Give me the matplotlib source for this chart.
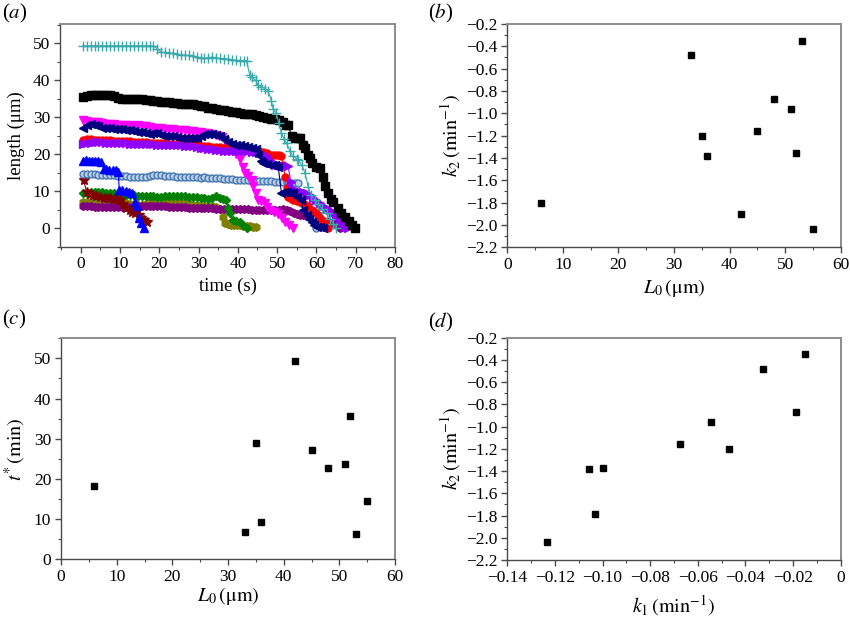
import numpy as np
import matplotlib
matplotlib.use('Agg')
import matplotlib.pyplot as plt
from matplotlib.ticker import MultipleLocator, FuncFormatter

plt.rcParams['font.family'] = ['Liberation Serif', 'DejaVu Serif']
plt.rcParams['mathtext.fontset'] = 'stix'
plt.rcParams['font.size'] = 12

# ---- panel (a): length (um) vs time (s), one list of (t, L) per filament
cyan_pts = [(0.5, 49.3), (1.5, 49.3), (2.5, 49.3), (3.5, 49.3), (4.5, 49.3), (5.5, 49.3),
            (6.5, 49.3), (7.5, 49.3), (8.5, 49.3), (9.5, 49.3), (10.5, 49.3), (11.5, 49.3),
            (12.5, 49.3), (13.5, 49.3), (14.5, 49.3), (15.5, 49.3), (16.5, 49.3), (17.5, 49.3),
            (18.5, 49.3), (19.5, 48.5), (20.5, 47.5), (21.5, 47.5), (22.5, 47.4), (23.5, 47.3),
            (24.5, 47.0), (25.5, 46.8), (26.5, 46.8), (27.5, 46.7), (28.5, 46.6), (29.5, 46.2),
            (30.5, 46.0), (31.5, 46.0), (32.5, 46.1), (33.5, 46.2), (34.5, 46.0), (35.5, 45.9),
            (36.5, 45.8), (37.5, 45.7), (38.5, 45.5), (39.5, 45.4), (40.5, 45.3), (41.5, 45.3),
            (42.2, 45.3), (43.0, 41.5), (43.5, 41.0), (44.5, 40.0), (45.2, 38.7), (46.0, 38.3),
            (47.0, 37.6), (47.7, 37.2), (48.5, 34.5), (49.0, 32.2), (49.7, 31.2), (50.4, 28.5),
            (51.1, 25.7), (51.8, 24.0), (52.4, 23.0), (53.2, 21.0), (54.1, 19.4), (55.0, 18.8),
            (55.4, 18.5), (56.3, 17.0), (57.1, 14.9), (57.9, 11.2), (58.7, 9.0), (59.6, 7.6),
            (60.5, 6.5), (61.5, 5.2), (62.6, 4.0), (63.5, 2.5), (64.3, 1.2), (65.1, 0.0)]

black_pts = [(0.5, 35.5), (1.5, 35.8), (2.5, 36.0), (3.5, 36.1), (4.5, 36.1), (5.5, 36.1),
             (6.5, 36.1), (7.5, 36.0), (8.5, 35.7), (9.5, 35.3), (10.5, 35.0), (11.5, 35.0),
             (12.5, 35.0), (13.5, 34.9), (14.5, 34.8), (15.5, 34.8), (16.5, 34.7), (17.5, 34.6),
             (18.5, 34.5), (19.5, 34.5), (20.5, 34.2), (21.5, 34.0), (22.5, 34.0), (23.5, 33.9),
             (24.5, 33.8), (25.5, 33.7), (26.5, 33.6), (27.5, 33.5), (28.5, 33.5), (29.5, 33.3),
             (30.5, 33.1), (31.5, 32.9), (32.5, 32.6), (33.5, 32.4), (34.5, 32.2), (35.5, 32.0),
             (36.5, 31.9), (37.5, 31.7), (38.5, 31.5), (39.5, 31.4), (40.5, 31.2), (41.5, 31.0),
             (42.5, 30.9), (43.5, 30.8), (44.5, 30.5), (45.5, 30.2), (46.5, 30.0), (47.5, 29.8),
             (48.5, 29.6), (49.5, 29.4), (50.5, 29.2), (51.5, 28.8), (52.3, 28.0), (52.8, 27.9),
             (53.7, 24.8), (54.5, 24.5), (55.2, 24.4), (55.8, 24.3), (56.5, 22.5), (57.1, 21.6),
             (57.8, 19.8), (58.3, 18.9), (59.0, 17.5), (60.0, 16.6), (60.8, 16.2), (61.7, 13.9),
             (62.3, 11.5), (63.0, 9.5), (63.7, 8.0), (64.3, 7.2), (65.5, 5.4), (66.3, 4.2),
             (67.3, 3.1), (68.2, 2.0), (69.0, 0.9), (69.8, 0.0)]

magenta_pts = [(0.5, 29.3), (1.5, 29.0), (2.5, 28.8), (3.5, 28.7), (4.5, 28.6), (5.5, 28.5),
               (6.5, 28.3), (7.5, 28.2), (8.5, 28.1), (9.5, 28.0), (10.5, 28.0), (11.5, 27.9),
               (12.5, 27.8), (13.5, 27.7), (14.5, 27.8), (15.5, 27.6), (16.5, 27.5), (17.5, 27.3),
               (18.5, 27.2), (19.5, 27.1), (20.5, 27.0), (21.5, 26.9), (22.5, 26.8), (23.5, 26.7),
               (24.5, 26.6), (25.5, 26.6), (26.5, 26.5), (27.5, 26.3), (28.5, 26.2), (29.5, 26.1),
               (30.5, 26.0), (31.5, 25.8), (32.5, 25.6), (33.5, 25.4), (34.5, 25.2), (35.3, 25.0),
               (35.9, 24.6), (36.8, 23.5), (37.7, 22.3), (38.8, 21.2), (39.6, 20.0), (40.5, 18.8),
               (41.2, 16.5), (41.8, 14.9), (42.5, 14.2), (43.5, 13.0), (43.9, 11.3), (44.6, 9.5),
               (45.2, 7.7), (46.0, 7.4), (46.9, 6.8), (47.5, 5.8), (48.2, 5.0), (49.2, 4.5),
               (50.3, 3.8), (51.2, 2.8), (52.0, 1.8), (53.0, 1.0), (54.1, 0.0)]

navy_pts = [(0.5, 27.2), (1.5, 27.8), (2.5, 28.2), (3.5, 28.0), (4.5, 27.6), (5.5, 27.2),
            (6.5, 27.0), (7.5, 27.0), (8.5, 26.9), (9.5, 26.8), (10.5, 26.8), (11.5, 26.6),
            (12.5, 26.5), (13.5, 26.3), (14.5, 26.1), (15.5, 26.0), (16.5, 25.8), (17.5, 25.5),
            (18.5, 25.8), (19.5, 25.6), (20.5, 25.2), (21.5, 25.0), (22.5, 25.0), (23.5, 24.9),
            (24.5, 24.6), (25.5, 24.5), (26.5, 24.5), (27.5, 24.4), (28.5, 24.4), (29.5, 24.5),
            (30.5, 24.8), (31.5, 25.4), (32.5, 25.5), (33.5, 25.5), (34.5, 25.3), (35.5, 25.0),
            (36.5, 24.2), (37.5, 23.2), (38.5, 22.8), (39.5, 22.5), (40.5, 22.4), (41.5, 22.2),
            (42.5, 22.0), (43.5, 21.8), (44.5, 21.5), (45.2, 19.8), (46.0, 18.3), (46.5, 17.6),
            (47.5, 17.4), (48.6, 17.1), (49.5, 17.0), (50.3, 16.5), (51.1, 9.5), (51.8, 9.8),
            (52.4, 9.7), (53.2, 9.6), (54.1, 9.5), (55.0, 8.5), (56.2, 7.6), (56.6, 4.9),
            (57.5, 3.5), (58.2, 2.5), (58.8, 1.8), (59.5, 1.0), (60.2, 0.4), (61.0, 0.2),
            (61.7, 0.0)]

red_pts = [(0.5, 23.8), (1.5, 24.0), (2.5, 24.0), (3.5, 23.9), (4.5, 23.9), (5.5, 23.8),
           (6.5, 23.8), (7.5, 23.8), (8.5, 23.7), (9.5, 23.7), (10.5, 23.6), (11.5, 23.6),
           (12.5, 23.5), (13.5, 23.4), (14.5, 23.4), (15.5, 23.3), (16.5, 23.2), (17.5, 23.1),
           (18.5, 23.0), (19.5, 23.0), (20.5, 22.9), (21.5, 22.9), (22.5, 22.8), (23.5, 22.8),
           (24.5, 22.7), (25.5, 22.7), (26.5, 22.6), (27.5, 22.5), (28.5, 22.5), (29.5, 22.4),
           (30.5, 22.3), (31.5, 22.2), (32.5, 22.1), (33.5, 22.0), (34.5, 22.0), (35.5, 21.9),
           (36.5, 21.8), (37.5, 21.7), (38.5, 21.6), (39.5, 21.5), (40.5, 21.4), (41.5, 21.3),
           (42.5, 21.2), (43.5, 21.1), (44.5, 21.0), (45.5, 20.8), (46.5, 20.6), (47.5, 20.4),
           (48.3, 19.9), (49.0, 19.8), (49.8, 19.7), (50.5, 19.8), (51.1, 19.4), (51.6, 17.0),
           (52.0, 13.9), (52.4, 11.0), (52.8, 8.5), (53.3, 8.1), (54.1, 7.6), (55.0, 7.3),
           (55.8, 7.2), (56.8, 6.5), (57.9, 5.9), (58.8, 5.0), (59.6, 4.5), (60.3, 3.5),
           (61.0, 2.8), (61.8, 2.0), (62.6, 1.4), (63.0, 0.0)]

violet_pts = [(0.5, 22.8), (1.5, 23.0), (2.5, 23.1), (3.5, 23.2), (4.5, 23.2), (5.5, 23.2),
              (6.5, 23.1), (7.5, 23.0), (8.5, 23.0), (9.5, 23.0), (10.5, 22.9), (11.5, 22.9),
              (12.5, 22.8), (13.5, 22.8), (14.5, 22.8), (15.5, 22.8), (16.5, 22.7), (17.5, 22.7),
              (18.5, 22.7), (19.5, 22.6), (20.5, 22.6), (21.5, 22.6), (22.5, 22.5), (23.5, 22.5),
              (24.5, 22.5), (25.5, 22.4), (26.5, 22.3), (27.5, 22.2), (28.5, 22.1), (29.5, 22.0),
              (30.5, 21.8), (31.5, 21.6), (32.5, 21.5), (33.5, 21.3), (34.5, 21.2), (35.5, 21.1),
              (36.5, 21.0), (37.5, 21.0), (38.5, 21.0), (39.5, 21.0), (40.5, 20.9), (41.5, 20.8),
              (42.5, 20.8), (43.5, 20.7), (44.5, 20.6), (45.5, 20.4), (46.5, 20.0), (47.5, 19.5),
              (48.2, 18.5), (48.8, 17.6), (49.5, 17.2), (50.2, 17.0), (51.0, 16.9), (51.8, 16.8),
              (52.8, 16.7), (53.5, 12.5), (54.2, 10.5), (55.0, 9.9), (55.8, 9.9), (56.7, 9.7),
              (57.5, 9.5), (58.3, 9.0), (59.2, 8.3), (60.0, 7.7), (60.9, 6.8), (61.8, 6.1),
              (62.6, 5.6), (63.4, 4.9), (64.3, 4.0), (65.1, 3.2), (66.0, 2.2), (66.8, 1.2),
              (67.6, 0.4), (68.1, 0.0)]

blue_pts = [(0.5, 18.3), (1.2, 18.4), (2.0, 18.3), (2.8, 18.3), (3.6, 18.2), (4.4, 18.3),
            (5.2, 18.0), (5.8, 16.1), (6.5, 15.9), (7.3, 15.8), (8.1, 15.8), (8.9, 15.7),
            (9.5, 15.2), (9.8, 10.4), (10.6, 10.2), (11.4, 10.0), (12.2, 9.8), (13.0, 9.5),
            (13.8, 7.0), (14.2, 5.9), (14.7, 2.7), (15.3, 1.3), (16.0, 0.0)]

steel_pts = [(0.5, 14.7), (1.5, 14.7), (2.5, 14.6), (3.5, 14.6), (4.5, 14.5), (5.5, 14.4),
             (6.5, 14.4), (7.5, 14.3), (8.5, 14.3), (9.5, 14.1), (10.5, 14.0), (11.5, 14.0),
             (12.5, 13.9), (13.5, 13.9), (14.5, 13.8), (15.5, 13.8), (16.5, 13.9), (17.5, 14.1),
             (18.5, 14.3), (19.5, 14.4), (20.5, 14.4), (21.5, 14.2), (22.5, 14.0), (23.5, 14.0),
             (24.5, 13.9), (25.5, 13.9), (26.5, 13.9), (27.5, 13.9), (28.5, 13.8), (29.5, 13.8),
             (30.5, 13.7), (31.5, 13.9), (32.5, 13.7), (33.5, 13.6), (34.5, 13.5), (35.5, 13.5),
             (36.5, 13.4), (37.5, 13.3), (38.5, 13.2), (39.5, 13.1), (40.5, 13.0), (41.5, 13.0),
             (42.5, 12.9), (43.5, 12.8), (44.5, 12.8), (45.5, 12.7), (46.5, 12.7), (47.5, 12.7),
             (48.5, 12.7), (49.5, 12.6), (50.5, 12.6), (51.5, 12.5), (52.5, 12.4), (53.5, 12.3),
             (54.5, 12.3), (55.4, 12.2), (56.0, 8.5), (56.6, 6.5), (57.5, 5.4), (58.3, 4.5),
             (59.2, 3.2), (59.6, 1.2), (60.0, 0.0)]

star_pts = [(0.7, 13.0), (1.5, 9.8), (2.3, 9.2), (3.1, 9.0), (3.9, 8.8), (4.8, 8.5),
            (5.8, 8.1), (6.7, 8.3), (7.5, 8.2), (8.4, 8.0), (9.2, 7.8), (10.0, 7.6),
            (10.8, 6.5), (11.6, 5.5), (12.4, 4.8), (13.0, 4.5), (13.8, 4.0), (14.7, 3.5),
            (15.3, 2.7), (16.0, 2.2), (16.8, 1.8)]

green_pts = [(0.5, 9.5), (1.5, 9.6), (2.5, 9.7), (3.5, 9.8), (4.5, 9.8), (5.5, 9.7),
             (6.5, 9.6), (7.5, 9.5), (8.5, 9.4), (9.5, 9.2), (10.5, 9.0), (11.5, 9.0),
             (12.5, 8.9), (13.5, 8.9), (14.5, 8.8), (15.5, 8.8), (16.5, 8.7), (17.5, 8.6),
             (18.5, 8.6), (19.5, 8.5), (20.5, 8.5), (21.5, 8.6), (22.5, 8.7), (23.5, 8.8),
             (24.5, 8.8), (25.5, 8.7), (26.5, 8.6), (27.5, 8.5), (28.5, 8.5), (29.5, 8.4),
             (30.5, 8.3), (31.5, 8.2), (32.5, 8.0), (33.5, 8.2), (34.5, 8.6), (35.5, 8.3),
             (36.3, 7.9), (37.1, 7.7), (37.6, 5.5), (38.0, 4.0), (38.8, 2.3), (39.6, 2.0),
             (40.5, 1.8), (41.3, 1.0), (42.2, 0.0)]

olive_pts = [(0.5, 7.0), (1.5, 7.1), (2.5, 7.1), (3.5, 7.2), (4.5, 7.2), (5.5, 7.2),
             (6.5, 7.1), (7.5, 7.1), (8.5, 7.0), (9.5, 7.0), (10.5, 6.9), (11.5, 6.8),
             (12.5, 6.6), (13.5, 6.4), (14.5, 6.2), (15.5, 6.3), (16.5, 6.6), (17.5, 7.0),
             (18.5, 7.2), (19.5, 7.3), (20.5, 7.2), (21.5, 7.1), (22.5, 7.0), (23.5, 7.0),
             (24.5, 7.0), (25.5, 6.9), (26.5, 6.8), (27.5, 6.6), (28.5, 6.4), (29.5, 6.2),
             (30.5, 6.1), (31.5, 6.0), (32.5, 6.0), (33.5, 6.0), (34.5, 5.8), (35.5, 5.3),
             (36.3, 3.1), (36.7, 1.4), (37.5, 1.2), (38.3, 1.0), (39.1, 1.0), (39.8, 0.9),
             (40.6, 0.8), (41.4, 0.7), (42.2, 0.6), (43.0, 0.5), (43.8, 0.3), (44.5, 0.2)]

purple_pts = [(0.5, 6.0), (1.5, 5.9), (2.5, 5.9), (3.5, 5.8), (4.5, 5.8), (5.5, 5.8),
              (6.5, 5.8), (7.5, 5.8), (8.5, 5.8), (9.5, 5.8), (10.5, 5.8), (11.5, 5.8),
              (12.5, 5.8), (13.5, 5.8), (14.5, 5.9), (15.5, 5.9), (16.5, 6.0), (17.5, 6.0),
              (18.5, 6.0), (19.5, 6.0), (20.5, 6.0), (21.5, 5.9), (22.5, 5.8), (23.5, 5.8),
              (24.5, 5.7), (25.5, 5.7), (26.5, 5.7), (27.5, 5.6), (28.5, 5.6), (29.5, 5.5),
              (30.5, 5.5), (31.5, 5.5), (32.5, 5.4), (33.5, 5.4), (34.5, 5.3), (35.5, 5.3),
              (36.5, 5.3), (37.5, 5.2), (38.5, 5.2), (39.5, 5.2), (40.5, 5.2), (41.5, 5.1),
              (42.5, 5.1), (43.5, 5.0), (44.5, 5.0), (45.5, 5.0), (46.5, 5.0), (47.5, 4.9),
              (48.5, 4.8), (49.5, 4.8), (50.5, 4.9), (51.5, 5.1), (52.4, 5.0), (53.3, 4.6),
              (54.2, 4.2), (55.0, 3.8), (55.8, 3.6), (56.7, 3.5), (57.5, 3.3), (58.4, 3.2),
              (59.2, 3.2), (60.0, 3.0), (60.8, 2.6), (61.5, 2.2), (62.2, 1.8), (63.0, 1.6),
              (63.8, 1.5), (64.5, 1.4), (65.1, 1.2), (65.6, 0.5), (66.0, 0.0)]

# ---- panels (b)-(d): fitted parameters per filament
L0_b = [6, 33, 35, 36, 42, 45, 48, 51, 52, 53, 55]
k2_b = [-1.80, -0.48, -1.20, -1.38, -1.90, -1.16, -0.87, -0.96, -1.36, -0.35, -2.04]

L0_c = [6, 33, 35, 36, 42, 45, 48, 51, 52, 53, 55]
tstar_c = [18.2, 6.9, 29.0, 9.3, 49.3, 27.1, 22.7, 23.7, 35.6, 6.3, 14.4]

k1_d = [-0.1232, -0.1057, -0.1032, -0.0999, -0.0675, -0.0545, -0.0468, -0.0325, -0.0189, -0.0150]
k2_d = [-2.04, -1.38, -1.79, -1.37, -1.16, -0.96, -1.20, -0.48, -0.87, -0.35]


def minus(s):
    return s.replace('-', '\u2212')


def style_axes(ax):
    """ Rahmen und Ticks wie in der Vorlage """
    for side in ['left', 'bottom']:
        ax.spines[side].set_color('#4a4a4a')
        ax.spines[side].set_linewidth(1.0)
    for side in ['top', 'right']:
        ax.spines[side].set_color('#8c8c8c')
        ax.spines[side].set_linewidth(1.4)
    ax.tick_params(which='both', direction='out', color='#4a4a4a',
                   labelsize=12.5, pad=3)
    ax.tick_params(which='major', length=4, width=1.0)
    ax.tick_params(which='minor', length=2.5, width=0.8)


fig = plt.figure(figsize=(8.5, 6.21), dpi=100)

# (a)
ax_a = fig.add_axes([0.0706, 0.6027, 0.394, 0.3587])
series_a = [
    (olive_pts, '#808000', 'h', '#808000', 5.5),
    (purple_pts, '#800080', 'h', '#800080', 5.5),
    (green_pts, '#008000', 'D', '#008000', 4.5),
    (star_pts, '#800000', '*', '#800000', 7.0),
    (steel_pts, '#4677b0', 'o', '#b9d0ea', 5.0),
    (blue_pts, '#0000ff', '^', '#0000ff', 5.5),
    (magenta_pts, '#ff00ff', 'v', '#ff00ff', 6.0),
    (red_pts, '#ff0000', 'o', '#ff0000', 5.0),
    (violet_pts, '#8f00ff', '>', '#8f00ff', 5.5),
    (navy_pts, '#00007f', '<', '#00007f', 6.0),
    (black_pts, '#000000', 's', '#000000', 5.3),
    (cyan_pts, '#3aa9ab', '+', '#3aa9ab', 6.5),
]
for pts, col, mk, face, ms in series_a:
    t, L = zip(*pts)
    ax_a.plot(t, L, color=col, lw=0.8, marker=mk, ms=ms, mfc=face,
              mec=col, mew=1.0)
ax_a.set_xlim(-5.3, 80)
ax_a.set_ylim(-5, 55.2)
ax_a.xaxis.set_major_locator(MultipleLocator(10))
ax_a.xaxis.set_minor_locator(MultipleLocator(5))
ax_a.yaxis.set_major_locator(MultipleLocator(10))
ax_a.yaxis.set_minor_locator(MultipleLocator(5))
ax_a.set_xlabel('time (s)', fontsize=13.5, labelpad=4)
ax_a.set_ylabel('length (μm)', fontsize=13.5, labelpad=6)
style_axes(ax_a)

# (b)
ax_b = fig.add_axes([0.5968, 0.6018, 0.3922, 0.3596])
ax_b.plot(L0_b, k2_b, 's', color='black', ms=5)
ax_b.set_xlim(0, 60)
ax_b.set_ylim(-2.2, -0.2)
ax_b.xaxis.set_major_locator(MultipleLocator(10))
ax_b.xaxis.set_minor_locator(MultipleLocator(5))
ax_b.yaxis.set_major_locator(MultipleLocator(0.2))
ax_b.yaxis.set_minor_locator(MultipleLocator(0.1))
ax_b.yaxis.set_major_formatter(FuncFormatter(lambda v, p: minus(f'{v:.1f}')))
ax_b.set_xlabel(r'$L_0\,(\mathrm{\mu m})$', fontsize=14.5, labelpad=3)
ax_b.set_ylabel(r'$k_2\,(\mathrm{min}^{-1})$', fontsize=14.5, labelpad=2)
style_axes(ax_b)

# (c)
ax_c = fig.add_axes([0.0718, 0.0994, 0.3929, 0.3558])
ax_c.plot(L0_c, tstar_c, 's', color='black', ms=5)
ax_c.set_xlim(0, 60)
ax_c.set_ylim(0, 55)
ax_c.xaxis.set_major_locator(MultipleLocator(10))
ax_c.xaxis.set_minor_locator(MultipleLocator(5))
ax_c.yaxis.set_major_locator(MultipleLocator(10))
ax_c.yaxis.set_minor_locator(MultipleLocator(5))
ax_c.set_xlabel(r'$L_0\,(\mathrm{\mu m})$', fontsize=14.5, labelpad=0)
ax_c.set_ylabel(r'$t^{*}\,(\mathrm{min})$', fontsize=14.5, labelpad=4)
style_axes(ax_c)

# (d)
ax_d = fig.add_axes([0.5968, 0.0982, 0.3922, 0.358])
ax_d.plot(k1_d, k2_d, 's', color='black', ms=5)
ax_d.set_xlim(-0.14, 0)
ax_d.set_ylim(-2.2, -0.2)
ax_d.xaxis.set_major_locator(MultipleLocator(0.02))
ax_d.xaxis.set_minor_locator(MultipleLocator(0.01))
ax_d.xaxis.set_major_formatter(FuncFormatter(
    lambda v, p: '0' if abs(v) < 1e-9 else minus(f'{v:.2f}')))
ax_d.yaxis.set_major_locator(MultipleLocator(0.2))
ax_d.yaxis.set_minor_locator(MultipleLocator(0.1))
ax_d.yaxis.set_major_formatter(FuncFormatter(lambda v, p: minus(f'{v:.1f}')))
ax_d.set_xlabel(r'$k_1\,(\mathrm{min}^{-1})$', fontsize=14.5, labelpad=5)
ax_d.set_ylabel(r'$k_2\,(\mathrm{min}^{-1})$', fontsize=14.5, labelpad=2)
style_axes(ax_d)

# Panelbeschriftungen
for x, y, lab in [(0.002, 0.979, 'a'), (0.503, 0.979, 'b'),
                  (0.002, 0.485, 'c'), (0.503, 0.481, 'd')]:
    fig.text(x, y, rf'($\it{{{lab}}}$)', fontsize=15, ha='left', va='center')

fig.savefig('out.png', dpi=100)
